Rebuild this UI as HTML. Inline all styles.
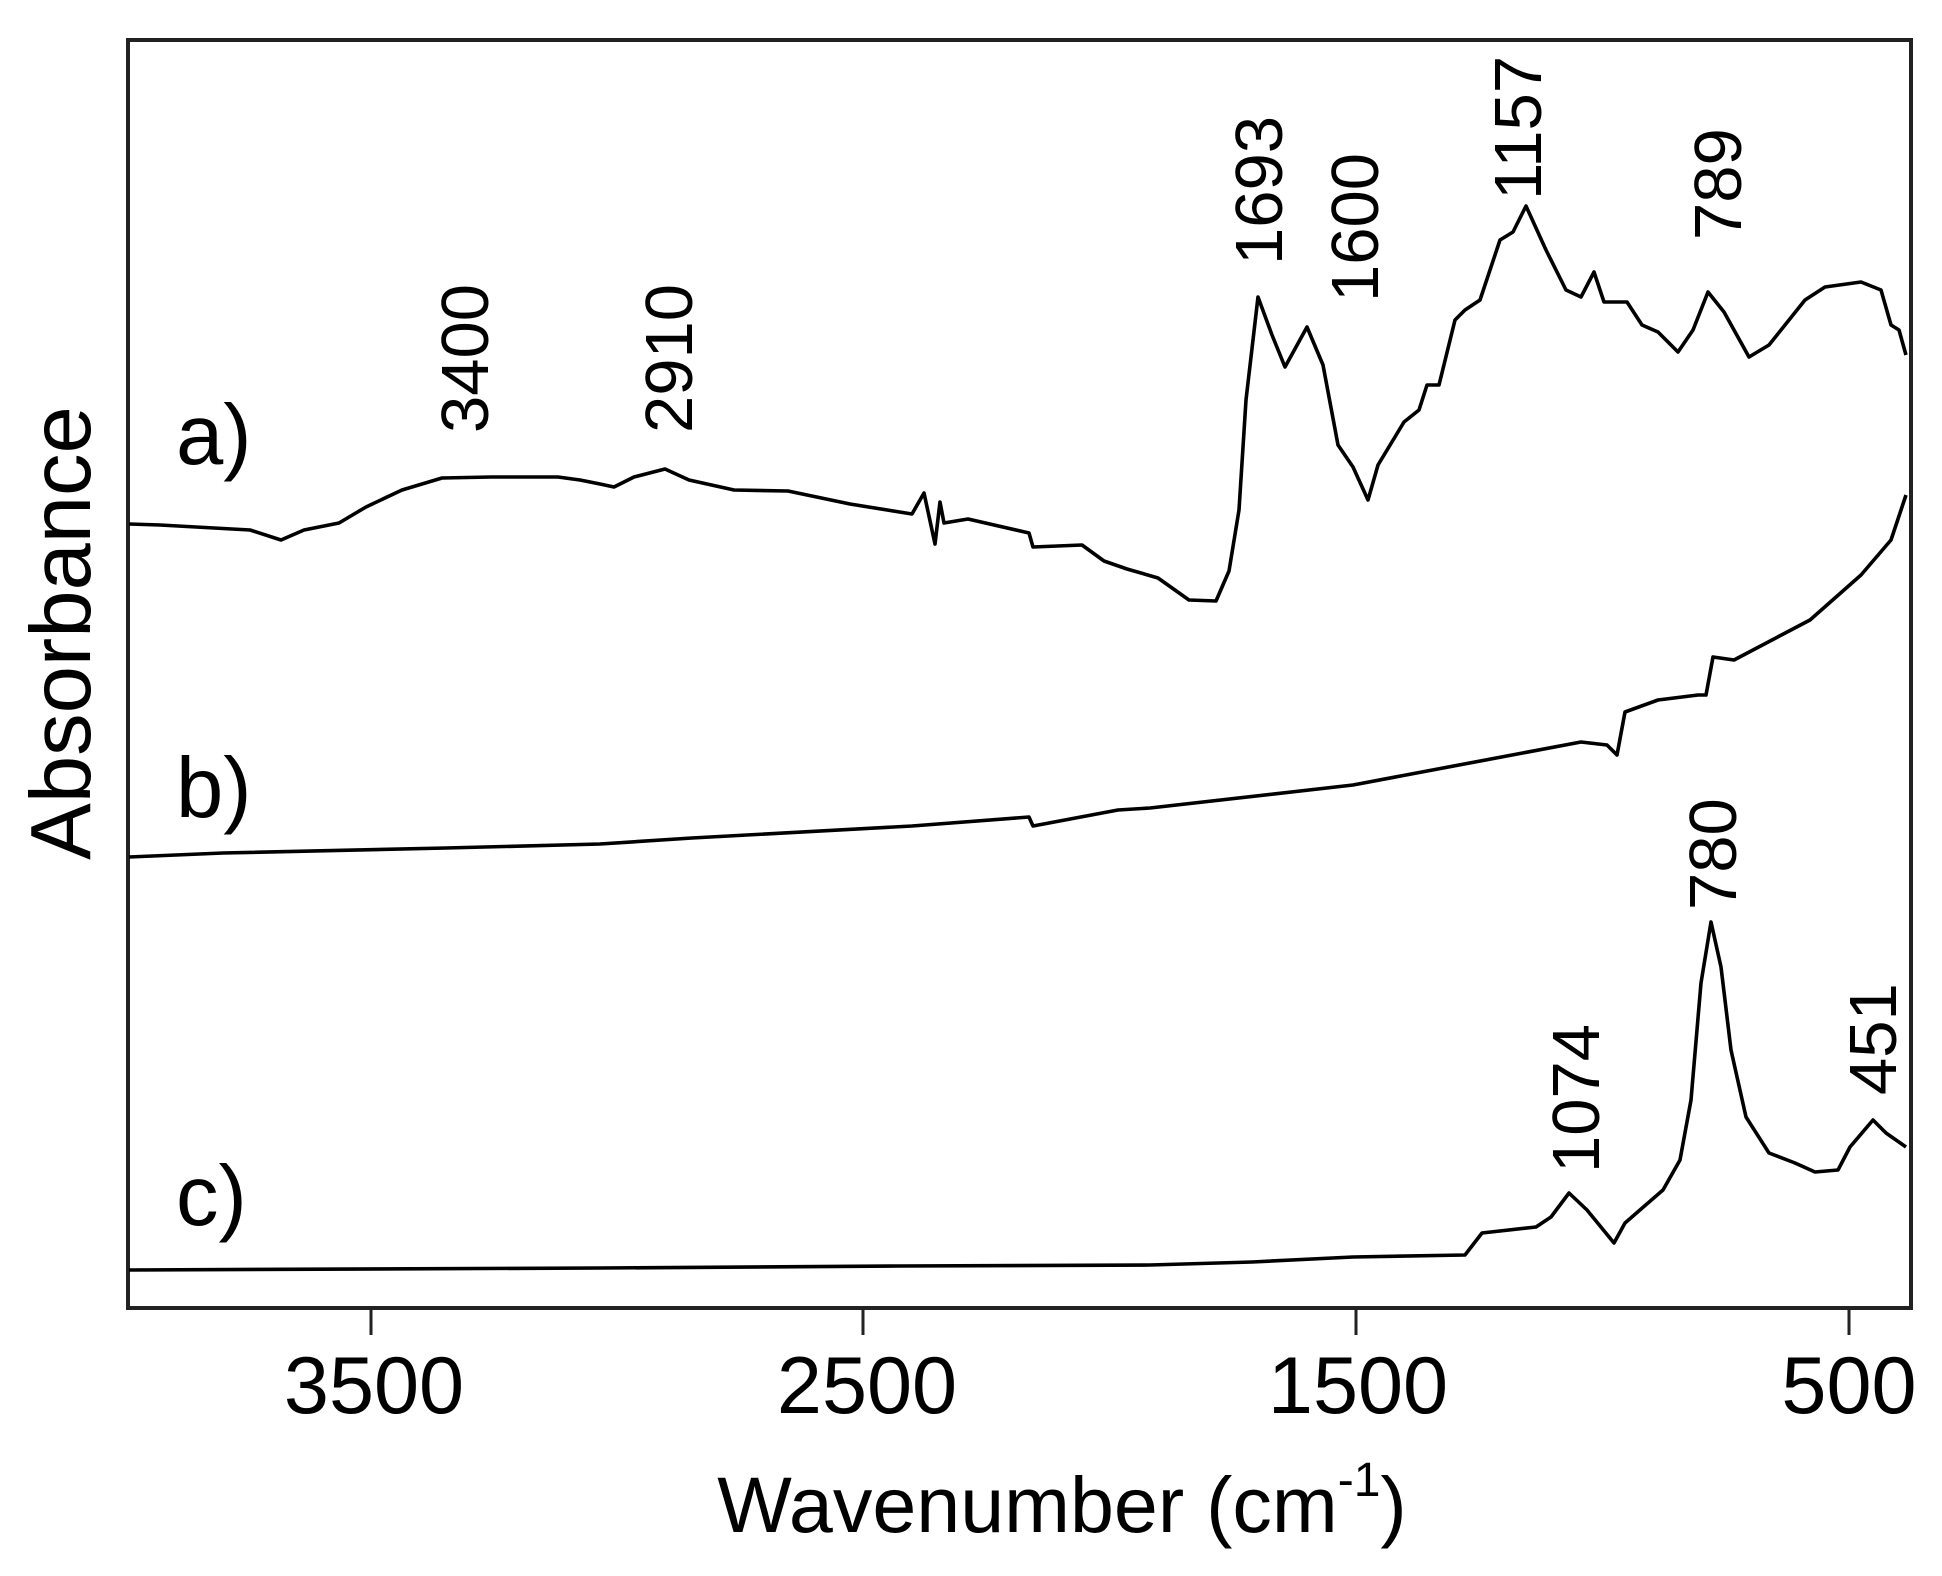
<!DOCTYPE html>
<html><head><meta charset="utf-8"><style>html,body{margin:0;padding:0;background:#fff}svg{display:block}</style></head>
<body>
<svg width="1942" height="1576" viewBox="0 0 1942 1576" xmlns="http://www.w3.org/2000/svg" font-family="Liberation Sans, Arial, sans-serif">
<rect x="0" y="0" width="1942" height="1576" fill="#fff"/>
<rect x="128" y="40" width="1783" height="1268" fill="none" stroke="#222" stroke-width="4"/>
<g stroke="#222" stroke-width="3">
<line x1="371" y1="1308" x2="371" y2="1335"/>
<line x1="863" y1="1308" x2="863" y2="1335"/>
<line x1="1356" y1="1308" x2="1356" y2="1335"/>
<line x1="1849" y1="1308" x2="1849" y2="1335"/>
</g>
<g font-size="81" text-anchor="middle" fill="#000">
<text x="374" y="1413">3500</text>
<text x="867" y="1413">2500</text>
<text x="1358" y="1413">1500</text>
<text x="1849" y="1413">500</text>
</g>
<text x="1062" y="1532" font-size="79" text-anchor="middle">Wavenumber (cm<tspan font-size="48" dy="-36">-1</tspan><tspan dy="36">)</tspan></text>
<text transform="translate(90,633) rotate(-90)" font-size="85" text-anchor="middle">Absorbance</text>
<g font-size="85">
<text x="176" y="464">a)</text>
<text x="176" y="817">b)</text>
<text x="176" y="1225">c)</text>
</g>
<g font-size="67">
<text transform="translate(488,433) rotate(-90)">3400</text>
<text transform="translate(692,433) rotate(-90)">2910</text>
<text transform="translate(1282,265) rotate(-90)">1693</text>
<text transform="translate(1378,302) rotate(-90)">1600</text>
<text transform="translate(1541,200) rotate(-90)">1157</text>
<text transform="translate(1741,240) rotate(-90)">789</text>
<text transform="translate(1736,910) rotate(-90)">780</text>
<text transform="translate(1599,1173) rotate(-90)">1074</text>
<text transform="translate(1896,1095) rotate(-90)">451</text>
</g>
<g fill="none" stroke="#000" stroke-width="3.6" stroke-linejoin="round">
<polyline points="129,524 160,525 196,527 250,530 281,540 304,530 339,523 366,507 402,490 442,478 491,477 558,477 580,480 600,484 614,487 634,477 665,469 689,480 734,490 788,491 850,504 912,514 924,493 935,544 940,502 944,523 968,519 1029,533 1033,547 1082,545 1104,561 1127,569 1158,578 1189,600 1216,601 1229,571 1239,510 1246,400 1258,297 1272,335 1285,367 1307,327 1323,365 1338,445 1353,467 1368,500 1378,465 1404,422 1419,410 1427,385 1439,385 1455,320 1465,310 1480,300 1500,240 1513,232 1526,206 1546,250 1566,290 1581,297 1594,272 1604,302 1627,302 1642,325 1658,332 1678,352 1693,330 1708,292 1724,312 1749,357 1769,345 1805,300 1825,287 1861,282 1881,290 1891,325 1899,330 1906,355"/>
<polyline points="129,857 223,853 446,848 600,844 692,838 912,826 1029,817 1033,826 1118,810 1150,808 1353,785 1581,742 1607,745 1617,755 1625,712 1658,700 1698,695 1706,695 1713,657 1734,660 1810,620 1861,575 1891,540 1906,495"/>
<polyline points="129,1270 600,1268 900,1266 1150,1265 1252,1262 1353,1257 1465,1255 1482,1233 1536,1227 1551,1217 1569,1193 1587,1210 1614,1243 1625,1223 1663,1190 1680,1160 1691,1100 1701,983 1711,922 1721,967 1731,1050 1746,1117 1769,1153 1795,1163 1815,1172 1838,1170 1850,1147 1873,1120 1886,1133 1906,1147"/>
</g>
</svg>
</body></html>
